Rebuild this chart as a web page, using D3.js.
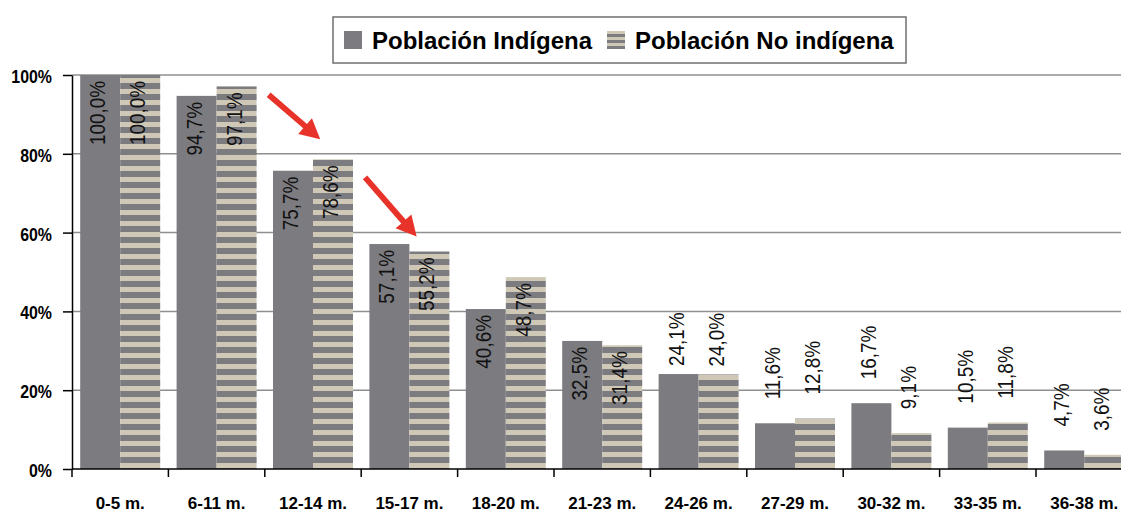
<!DOCTYPE html>
<html>
<head>
<meta charset="utf-8">
<script src="https://cdn.jsdelivr.net/npm/d3@7"></script>
<style>
  body { margin: 0; background: #fff; }
  svg { display: block; font-family: "Liberation Sans", Arial, sans-serif; }
</style>
</head>
<body>
<div id="chart"></div>
<script>
const categories = ["0-5 m.", "6-11 m.", "12-14 m.", "15-17 m.", "18-20 m.", "21-23 m.",
  "24-26 m.", "27-29 m.", "30-32 m.", "33-35 m.", "36-38 m."];
const seriesNames = ["Población Indígena", "Población No indígena"];
const indigena = [100.0, 94.7, 75.7, 57.1, 40.6, 32.5, 24.1, 11.6, 16.7, 10.5, 4.7];
const noIndigena = [100.0, 97.1, 78.6, 55.2, 48.7, 31.4, 24.0, 12.8, 9.1, 11.8, 3.6];
const yTicks = [0, 20, 40, 60, 80, 100];
// red arrows: category they sit in, start and end level (%)
const arrows = [
  { cat: "12-14 m.", from: 95, to: 83.7 },
  { cat: "15-17 m.", from: 74, to: 59 }
];

const width = 1121;
const height = 513;
const plotLeft = 72;
const plotTop = 75;
const plotBottom = 469;
const bandW = 96.4;
const gray = "#7b7b80";
const beige = "#cfc8b7";
// no narrow font installed, so squeeze text horizontally
const squeeze = 0.86;

const svg = d3
  .select("#chart")
  .append("svg")
  .attr("width", width)
  .attr("height", height);

const defs = svg.append("defs");
const stripes = defs
  .append("pattern")
  .attr("id", "stripes")
  .attr("patternUnits", "userSpaceOnUse")
  .attr("width", 10)
  .attr("height", 11);
stripes.append("rect").attr("width", 10).attr("height", 11).attr("fill", gray);
stripes.append("rect").attr("y", 1).attr("width", 10).attr("height", 5).attr("fill", beige);

const stripesSmall = defs
  .append("pattern")
  .attr("id", "stripes-small")
  .attr("patternUnits", "userSpaceOnUse")
  .attr("width", 10)
  .attr("height", 6);
stripesSmall.append("rect").attr("width", 10).attr("height", 6).attr("fill", gray);
stripesSmall.append("rect").attr("y", 1).attr("width", 10).attr("height", 3).attr("fill", beige);

const xScale = d3
  .scaleBand()
  .domain(categories)
  .range([plotLeft, plotLeft + bandW * categories.length]);

const groupW = 80;
const xSub = d3.scaleBand().domain(seriesNames).range([0, groupW]);
const offset = (xScale.bandwidth() - groupW) / 2;

const yScale = d3.scaleLinear().domain([0, 100]).range([plotBottom, plotTop]);

// gridlines
svg
  .append("g")
  .selectAll("line")
  .data(yTicks.filter((d) => d > 0))
  .enter()
  .append("line")
  .attr("x1", plotLeft)
  .attr("x2", width)
  .attr("y1", (d) => yScale(d))
  .attr("y2", (d) => yScale(d))
  .attr("stroke", "#8f8f8f")
  .attr("stroke-width", 1.5);

// bars
const rows = categories.map((c, i) => [
  { cat: c, s: seriesNames[0], v: indigena[i] },
  { cat: c, s: seriesNames[1], v: noIndigena[i] }
]);

const groups = svg
  .append("g")
  .selectAll("g")
  .data(rows)
  .enter()
  .append("g");

groups
  .selectAll("rect")
  .data((d) => d)
  .enter()
  .append("rect")
  .attr("x", (d) => xScale(d.cat) + offset + xSub(d.s))
  .attr("y", (d) => yScale(d.v))
  .attr("width", xSub.bandwidth())
  .attr("height", (d) => plotBottom - yScale(d.v))
  .attr("fill", (d) => (d.s === seriesNames[0] ? gray : "url(#stripes)"));

// value labels, rotated
groups
  .selectAll("text")
  .data((d) => d)
  .enter()
  .append("text")
  .attr("transform", (d) => {
    const cx = xScale(d.cat) + offset + xSub(d.s) + xSub.bandwidth() / 2 + 5;
    const yTop = yScale(d.v);
    const y = d.v >= 30 ? yTop + 6 : yTop - (d.v >= 20 ? 8 : 24);
    return `translate(${cx},${y}) rotate(-90) scale(${squeeze},1)`;
  })
  .attr("text-anchor", (d) => (d.v >= 30 ? "end" : "start"))
  .attr("font-size", 22)
  .attr("fill", "#111")
  .text((d) => d.v.toFixed(1).replace(".", ",") + "%");

// y axis
const yAxis = d3
  .axisLeft(yScale)
  .tickValues(yTicks)
  .tickSize(9)
  .tickSizeOuter(0)
  .tickPadding(11)
  .tickFormat((d) => d + "%");

const yG = svg
  .append("g")
  .attr("transform", `translate(${plotLeft},0)`)
  .call(yAxis);
yG.select(".domain").attr("stroke", "#000").attr("stroke-width", 1.5);
yG.selectAll(".tick line").attr("stroke", "#000").attr("stroke-width", 1.5);
yG.selectAll(".tick text")
  .attr("x", -20 / squeeze)
  .attr("dy", "0.4em")
  .attr("transform", `scale(${squeeze},1)`)
  .attr("fill", "#000")
  .style("font-size", "18.5px")
  .style("font-weight", "bold");

// x axis
const xAxis = d3.axisBottom(xScale).tickSize(0).tickSizeOuter(0);
const xG = svg
  .append("g")
  .attr("transform", `translate(0,${plotBottom})`)
  .call(xAxis);
xG.select(".domain").remove();
xG.append("line")
  .attr("x1", plotLeft)
  .attr("x2", width)
  .attr("stroke", "#000")
  .attr("stroke-width", 1.5);
xG.selectAll(".tick text")
  .attr("y", 39.5)
  .attr("dy", 0)
  .attr("fill", "#000")
  .style("font-size", "17px")
  .style("font-weight", "bold");
xG.selectAll(".sep")
  .data(categories)
  .enter()
  .append("line")
  .attr("class", "sep")
  .attr("x1", (d) => xScale(d))
  .attr("x2", (d) => xScale(d))
  .attr("y1", 0)
  .attr("y2", 8)
  .attr("stroke", "#000")
  .attr("stroke-width", 1.5);

// arrows
const arrowPath = (x0, y0, x1, y1) => {
  const a = Math.atan2(y1 - y0, x1 - x0);
  const len = Math.hypot(x1 - x0, y1 - y0);
  const hl = 20, hw = 10.5, sw = 2.9;
  const pts = [
    [0, -sw], [len - hl, -sw], [len - hl, -hw], [len, 0],
    [len - hl, hw], [len - hl, sw], [0, sw]
  ].map(([u, v]) => [
    x0 + u * Math.cos(a) - v * Math.sin(a),
    y0 + u * Math.sin(a) + v * Math.cos(a)
  ]);
  return "M" + pts.join("L") + "Z";
};

svg
  .append("g")
  .selectAll("path")
  .data(arrows)
  .enter()
  .append("path")
  .attr("d", (d) =>
    arrowPath(
      xScale(d.cat) + 0.04 * xScale.bandwidth(),
      yScale(d.from),
      xScale(d.cat) + 0.575 * xScale.bandwidth(),
      yScale(d.to)
    )
  )
  .attr("fill", "#e8332a");

// legend
const legend = svg.append("g");
legend
  .append("rect")
  .attr("x", 333)
  .attr("y", 17)
  .attr("width", 573)
  .attr("height", 46)
  .attr("fill", "#fff")
  .attr("stroke", "#6f6f6f")
  .attr("stroke-width", 1.5);

const legendItems = [
  { name: seriesNames[0], x: 344, fill: gray },
  { name: seriesNames[1], x: 607, fill: "url(#stripes-small)" }
];
const li = legend
  .selectAll("g")
  .data(legendItems)
  .enter()
  .append("g")
  .attr("transform", (d) => `translate(${d.x},0)`);
li.append("rect")
  .attr("y", 31)
  .attr("width", 18)
  .attr("height", 18)
  .attr("fill", (d) => d.fill);
li.append("text")
  .attr("x", 28)
  .attr("y", 49)
  .attr("font-size", 24)
  .attr("font-weight", "bold")
  .attr("fill", "#000")
  .text((d) => d.name);
</script>
</body>
</html>
